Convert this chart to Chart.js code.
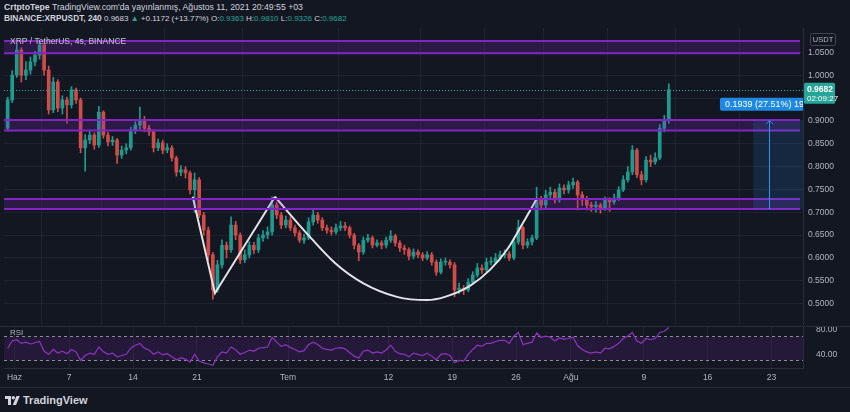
<!DOCTYPE html>
<html lang="tr"><head><meta charset="utf-8">
<script src="https://cdn.jsdelivr.net/npm/chart.js@4.4.1/dist/chart.umd.min.js"></script>
<style>
 html,body{margin:0;padding:0;background:#131722;}
 body{width:850px;height:412px;position:relative;overflow:hidden;font-family:'Liberation Sans',Arial,sans-serif;color:#d1d4dc}
 .hdr{position:absolute;left:4px;white-space:nowrap;line-height:10px}
 .up{color:#26a69a}
 #mainWrap{position:absolute;left:0;top:28px;width:850px;height:297px}
 #rsiWrap{position:absolute;left:0;top:326px;width:850px;height:62px}
 #logo{position:absolute;left:5px;top:394px;font-size:11px;font-weight:bold;color:#d1d4dc;white-space:nowrap;line-height:12px}
 #logo svg{vertical-align:-1px;margin-right:3px}
</style></head><body>
<div class="hdr" style="top:2px;font-size:8.7px"><b>CrtptoTepe</b> TradingView.com'da yayınlanmış, Ağustos 11, 2021 20:49:55 +03</div>
<div class="hdr" style="top:13px;font-size:8px"><b style="font-size:8.3px">BINANCE:XRPUSDT, 240</b> 0.9683 <span class="up">▲</span> +0.1172 (+13.77%) O:<span class="up">0.9363</span> H:<span class="up">0.9810</span> L:<span class="up">0.9326</span> C:<span class="up">0.9682</span></div>
<div id="mainWrap"><canvas id="main"></canvas></div>
<div id="rsiWrap"><canvas id="rsi"></canvas></div>
<div id="logo"><svg width="15" height="9" viewBox="0 0 15 9"><path d="M0 0h6v9h-3v-6h-3z" fill="#d1d4dc"/><circle cx="8.3" cy="1.7" r="1.7" fill="#d1d4dc"/><path d="M11.5 0h3.3l-3.8 9h-3.3z" fill="#d1d4dc"/></svg>TradingView</div>
<script>
// ---- data (12h candles, days counted from 1 June 2021) ----
const firstCandleDay = -1;      // 31 May 00:00
const candleSpanDays = 0.5;     // 12 hours
const opens = [0.884,0.946,1.000,1.055,1.000,1.011,1.029,1.044,1.066,1.011,
 0.924,0.985,0.928,0.946,0.935,0.968,0.946,0.841,0.858,0.869,
 0.847,0.919,0.869,0.854,0.858,0.825,0.836,0.841,0.880,0.891,
 0.902,0.884,0.876,0.841,0.852,0.836,0.841,0.819,0.788,0.793,
 0.786,0.749,0.771,0.694,0.661,0.607,0.530,0.585,0.628,0.618,
 0.672,0.650,0.596,0.607,0.628,0.618,0.644,0.650,0.657,0.716,
 0.694,0.672,0.683,0.666,0.655,0.639,0.644,0.679,0.694,0.683,
 0.666,0.661,0.657,0.666,0.670,0.666,0.650,0.628,0.613,0.639,
 0.644,0.628,0.633,0.628,0.639,0.648,0.633,0.622,0.618,0.604,
 0.613,0.607,0.600,0.607,0.591,0.569,0.591,0.591,0.585,0.530,
 0.534,0.530,0.547,0.563,0.578,0.574,0.591,0.591,0.600,0.607,
 0.609,0.600,0.635,0.666,0.628,0.635,0.644,0.727,0.716,0.738,
 0.744,0.727,0.753,0.749,0.760,0.766,0.738,0.727,0.716,0.712,
 0.716,0.709,0.727,0.723,0.731,0.749,0.771,0.788,0.836,0.782,
 0.771,0.814,0.810,0.819,0.884,0.902];
const highs = [0.952,1.010,1.068,1.060,1.030,1.040,1.052,1.075,1.070,1.020,
 0.995,0.990,0.955,0.952,0.975,0.972,0.950,0.870,0.878,0.874,
 0.932,0.922,0.875,0.866,0.862,0.845,0.850,0.886,0.898,0.930,
 0.910,0.890,0.880,0.860,0.858,0.850,0.846,0.823,0.802,0.800,
 0.790,0.786,0.776,0.700,0.668,0.612,0.595,0.640,0.635,0.690,
 0.680,0.655,0.618,0.636,0.634,0.652,0.660,0.668,0.734,0.722,
 0.700,0.692,0.690,0.672,0.660,0.652,0.688,0.708,0.700,0.688,
 0.672,0.668,0.674,0.680,0.678,0.670,0.654,0.632,0.646,0.652,
 0.648,0.640,0.638,0.646,0.660,0.652,0.638,0.628,0.622,0.620,
 0.618,0.612,0.614,0.612,0.596,0.598,0.600,0.596,0.590,0.545,
 0.540,0.555,0.570,0.588,0.585,0.600,0.602,0.610,0.615,0.618,
 0.614,0.642,0.683,0.670,0.642,0.650,0.755,0.735,0.748,0.755,
 0.750,0.762,0.760,0.768,0.775,0.770,0.745,0.735,0.722,0.724,
 0.720,0.734,0.732,0.740,0.756,0.780,0.800,0.846,0.840,0.790,
 0.822,0.825,0.830,0.892,0.912,0.981];
const lows = [0.878,0.940,0.995,0.985,0.990,1.002,1.020,1.035,1.000,0.915,
 0.918,0.920,0.915,0.895,0.928,0.938,0.830,0.790,0.850,0.838,
 0.842,0.862,0.845,0.846,0.807,0.818,0.828,0.836,0.872,0.882,
 0.876,0.868,0.832,0.835,0.828,0.830,0.812,0.779,0.780,0.775,
 0.740,0.700,0.688,0.650,0.595,0.510,0.525,0.578,0.600,0.612,
 0.640,0.588,0.590,0.600,0.610,0.612,0.636,0.642,0.650,0.686,
 0.664,0.666,0.660,0.648,0.634,0.632,0.640,0.672,0.676,0.660,
 0.654,0.650,0.652,0.660,0.660,0.644,0.620,0.594,0.608,0.634,
 0.622,0.624,0.620,0.622,0.634,0.626,0.614,0.608,0.596,0.598,
 0.600,0.594,0.596,0.584,0.562,0.565,0.584,0.578,0.515,0.522,
 0.520,0.526,0.542,0.558,0.566,0.570,0.585,0.588,0.596,0.600,
 0.594,0.596,0.630,0.620,0.622,0.628,0.640,0.705,0.710,0.730,
 0.720,0.722,0.740,0.742,0.752,0.705,0.715,0.705,0.702,0.700,
 0.698,0.704,0.702,0.718,0.726,0.745,0.766,0.782,0.776,0.760,
 0.766,0.800,0.805,0.815,0.876,0.895];
const closes = [0.946,1.000,1.055,1.000,1.011,1.029,1.044,1.066,1.011,0.924,
 0.985,0.928,0.946,0.935,0.968,0.946,0.841,0.858,0.869,0.847,
 0.919,0.869,0.854,0.858,0.825,0.836,0.841,0.880,0.891,0.902,
 0.884,0.876,0.841,0.852,0.836,0.841,0.819,0.788,0.793,0.786,
 0.749,0.771,0.694,0.661,0.607,0.530,0.585,0.628,0.618,0.672,
 0.650,0.596,0.607,0.628,0.618,0.644,0.650,0.657,0.716,0.694,
 0.672,0.683,0.666,0.655,0.639,0.644,0.679,0.694,0.683,0.666,
 0.661,0.657,0.666,0.670,0.666,0.650,0.628,0.613,0.639,0.644,
 0.628,0.633,0.628,0.639,0.648,0.633,0.622,0.618,0.604,0.613,
 0.607,0.600,0.607,0.591,0.569,0.591,0.591,0.585,0.530,0.534,
 0.530,0.547,0.563,0.578,0.574,0.591,0.591,0.600,0.607,0.609,
 0.600,0.635,0.666,0.628,0.635,0.644,0.727,0.716,0.738,0.744,
 0.727,0.753,0.749,0.760,0.766,0.738,0.727,0.716,0.712,0.716,
 0.709,0.727,0.723,0.731,0.749,0.771,0.788,0.836,0.782,0.771,
 0.814,0.810,0.819,0.884,0.902,0.968];
const rsiValues = [50,62,64,58,60,57,59,61,45,40,
 48,42,45,41,48,44,30,38,42,40,
 52,44,40,42,36,38,40,50,55,58,
 50,47,40,44,39,41,36,31,34,32,
 27,40,29,26,24,22,36,44,42,52,
 47,40,43,47,45,50,51,52,68,60,
 53,56,51,48,44,46,56,60,56,50,
 48,47,50,51,49,43,37,34,45,47,
 42,44,42,47,55,45,41,40,36,42,
 40,38,42,37,31,40,41,38,26,30,
 29,40,48,55,53,58,58,61,63,63,
 58,70,76,56,58,60,75,68,70,68,
 62,67,65,66,68,54,48,44,42,44,
 42,50,49,53,58,66,70,76,62,58,
 66,64,66,76,78,84];
const dateTickDays = [0,6,13,20,30,41,48,55,61,69,76,83];
const dateTickLabels = ['Haz','7','14','21','Tem','12','19','26','Ağu','9','16','23'];
const priceTicks = [0.50,0.55,0.60,0.65,0.70,0.75,0.80,0.85,0.90,0.95,1.00,1.05];
const rsiTicks = [40,80];
const rsiBand = [30,70];
const zoneLows  = [1.048,0.879,0.707];
const zoneHighs = [1.075,0.902,0.729];
const wDays   = [19.54,21.98,28.56];
const wPrices = [0.734,0.523,0.734];
const cupDays   = [28.56,32.04,35.14,38.21,41.94,45.23,47.20,49.94,52.13,54.00,55.76,57.30];
const cupPrices = [0.734,0.654,0.589,0.545,0.515,0.508,0.515,0.539,0.574,0.618,0.677,0.731];
const measureFrom = 0.7066, measureTo = 0.9005, measureStartDay = 81.0, measureArrowDay = 82.7;
const measureLabel = '0.1939 (27.51%) 1939';
const lastPrice = 0.9682, countdown = '02:09:27';
const pairLabel = 'XRP / TetherUS, 4s, BINANCE';

// ---- styling ----
const FONT = "'Liberation Sans', Arial, sans-serif";
const GRID = 'rgba(42,46,57,0.55)';
const AXIS = '#b2b5be';
const C_UP = '#1f9a8e', C_DN = '#cf4c49';
const ZONE_LINE = '#8424c4', ZONE_FILL = 'rgba(140,40,200,0.2)';
const xMin = -1.151, xMax = 86.46;

const t = closes.map((_, i) => firstCandleDay + (i + 0.5) * candleSpanDays);
const colors = closes.map((c, i) => c >= opens[i] ? C_UP : C_DN);

function fixY(w){ return s => { s.width = w; s.paddingTop = 0; s.paddingBottom = 0; }; }
function rr(ctx, x, y, w, h, r){ ctx.beginPath(); ctx.moveTo(x+r,y); ctx.lineTo(x+w-r,y); ctx.quadraticCurveTo(x+w,y,x+w,y+r); ctx.lineTo(x+w,y+h-r); ctx.quadraticCurveTo(x+w,y+h,x+w-r,y+h); ctx.lineTo(x+r,y+h); ctx.quadraticCurveTo(x,y+h,x,y+h-r); ctx.lineTo(x,y+r); ctx.quadraticCurveTo(x,y,x+r,y); ctx.closePath(); }

const mainOverlay = {
  id: 'mainOverlay',
  afterDatasetsDraw(chart){
    const {ctx, chartArea: a, scales: {x, y}} = chart;
    ctx.save();
    ctx.beginPath(); ctx.rect(a.left, a.top, a.right - a.left, a.bottom - a.top); ctx.clip();
    const zr = a.right - 3;
    zoneLows.forEach((lo, k) => {
      const yT = y.getPixelForValue(zoneHighs[k]), yB = y.getPixelForValue(lo);
      ctx.fillStyle = ZONE_FILL;
      ctx.fillRect(a.left, yT, zr - a.left, yB - yT);
      ctx.strokeStyle = ZONE_LINE; ctx.lineWidth = 2;
      ctx.beginPath(); ctx.moveTo(a.left, yT); ctx.lineTo(zr, yT); ctx.moveTo(a.left, yB); ctx.lineTo(zr, yB); ctx.stroke();
    });
    // price range measurement
    const mx0 = x.getPixelForValue(measureStartDay), ax = Math.round(x.getPixelForValue(measureArrowDay)) + 0.5;
    const myT = y.getPixelForValue(measureTo), myB = y.getPixelForValue(measureFrom);
    ctx.fillStyle = 'rgba(33,150,243,0.14)';
    ctx.fillRect(mx0, myT, a.right - mx0, myB - myT);
    ctx.strokeStyle = '#2196f3'; ctx.lineWidth = 1;
    ctx.beginPath(); ctx.moveTo(ax, myB); ctx.lineTo(ax, myT); ctx.stroke();
    ctx.beginPath(); ctx.moveTo(ax - 3.5, myT + 3.5); ctx.lineTo(ax, myT); ctx.lineTo(ax + 3.5, myT + 3.5); ctx.stroke();
    ctx.font = '9px ' + FONT;
    const tw = ctx.measureText(measureLabel).width;
    const lw = tw + 10, lh = 13, lx = ax - lw / 2, ly = myT - 10 - lh;
    ctx.fillStyle = '#1e88e5'; rr(ctx, lx, ly, lw, lh, 2); ctx.fill();
    ctx.fillStyle = '#ffffff'; ctx.textAlign = 'left'; ctx.textBaseline = 'middle';
    ctx.fillText(measureLabel, lx + 5, ly + lh / 2 + 0.5);
    // last price dotted line
    const yP = Math.round(y.getPixelForValue(lastPrice)) + 0.5;
    ctx.strokeStyle = '#26a69a'; ctx.setLineDash([1, 2]);
    ctx.beginPath(); ctx.moveTo(a.left, yP); ctx.lineTo(a.right, yP); ctx.stroke();
    ctx.setLineDash([]);
    ctx.restore();
  },
  afterDraw(chart){
    const {ctx, chartArea: a, scales: {y}} = chart;
    ctx.save();
    const yP = y.getPixelForValue(lastPrice);
    ctx.fillStyle = '#26a69a'; rr(ctx, a.right + 1, yP - 7, 31, 21, 1.5); ctx.fill();
    ctx.fillStyle = '#ffffff'; ctx.textAlign = 'left'; ctx.textBaseline = 'middle';
    ctx.font = 'bold 8.5px ' + FONT; ctx.fillText(lastPrice.toFixed(4), a.right + 4, yP);
    ctx.font = '8px ' + FONT; ctx.fillText(countdown, a.right + 4, yP + 9);
    // currency tag
    ctx.strokeStyle = '#434651'; ctx.lineWidth = 1; rr(ctx, a.right + 7.5, 5.5, 25, 12, 2); ctx.stroke();
    ctx.fillStyle = AXIS; ctx.font = '7.5px ' + FONT; ctx.textAlign = 'center';
    ctx.fillText('USDT', a.right + 20, 12);
    // pair label
    ctx.textAlign = 'left'; ctx.font = '8.5px ' + FONT; ctx.fillStyle = '#c3c6ce';
    ctx.fillText(pairLabel, 10, 13.5);
    ctx.restore();
  }
};

new Chart(document.getElementById('main'), {
  type: 'bar',
  data: { datasets: [
    { type: 'line', data: wDays.map((d, i) => ({x: d, y: wPrices[i]})), borderColor: '#e3e4e8', borderWidth: 2, pointRadius: 0, tension: 0, order: 0 },
    { type: 'line', data: cupDays.map((d, i) => ({x: d, y: cupPrices[i]})), borderColor: '#e3e4e8', borderWidth: 2, pointRadius: 0, cubicInterpolationMode: 'monotone', order: 0 },
    { type: 'bar', data: t.map((v, i) => ({x: v, y: [lows[i], highs[i]]})), backgroundColor: colors, grouped: false, barPercentage: 1, categoryPercentage: 1, maxBarThickness: 1, order: 2 },
    { type: 'bar', data: t.map((v, i) => ({x: v, y: [opens[i], closes[i]]})), backgroundColor: colors, grouped: false, barPercentage: 1, categoryPercentage: 1, maxBarThickness: 3, minBarLength: 1, order: 1 }
  ]},
  options: {
    responsive: true, maintainAspectRatio: false, animation: false, events: [], devicePixelRatio: 1,
    layout: { padding: { left: 4, right: 0, top: 0, bottom: 0 } },
    plugins: { legend: { display: false }, tooltip: { enabled: false } },
    scales: {
      x: { type: 'linear', min: xMin, max: xMax, offset: false,
           ticks: { display: false }, grid: { color: GRID, drawTicks: false }, border: { display: false },
           afterBuildTicks: s => { s.ticks = dateTickDays.map(v => ({value: v})); },
           afterFit: s => { s.height = 0; s.paddingLeft = 0; s.paddingRight = 0; } },
      y: { type: 'linear', position: 'right', min: 0.4534, max: 1.1032, beginAtZero: false,
           ticks: { color: AXIS, font: { size: 8.5, family: FONT }, padding: 5, callback: v => v.toFixed(4) },
           grid: { color: GRID, drawTicks: false }, border: { display: true, color: '#2a2e39' },
           afterBuildTicks: s => { s.ticks = priceTicks.map(v => ({value: v})); },
           afterFit: fixY(47) }
    }
  },
  plugins: [mainOverlay]
});

const rsiOverlay = {
  id: 'rsiOverlay',
  beforeDatasetsDraw(chart){
    const {ctx, chartArea: a, scales: {y}} = chart;
    const y70 = Math.round(y.getPixelForValue(rsiBand[1])) + 0.5, y30 = Math.round(y.getPixelForValue(rsiBand[0])) + 0.5;
    ctx.save();
    ctx.fillStyle = 'rgba(140,40,200,0.14)';
    ctx.fillRect(a.left, y70, a.right - a.left, y30 - y70);
    ctx.strokeStyle = '#8a8d96'; ctx.lineWidth = 1; ctx.setLineDash([3, 3]);
    ctx.beginPath(); ctx.moveTo(a.left, y70); ctx.lineTo(a.right, y70); ctx.moveTo(a.left, y30); ctx.lineTo(a.right, y30); ctx.stroke();
    ctx.restore();
  },
  afterDraw(chart){
    const {ctx} = chart;
    ctx.save();
    ctx.fillStyle = AXIS; ctx.font = '8px ' + FONT; ctx.textAlign = 'left'; ctx.textBaseline = 'middle';
    ctx.fillText('RSI', 10, 7);
    ctx.strokeStyle = '#2a2e39'; ctx.lineWidth = 1;
    ctx.beginPath(); ctx.moveTo(0, 0.5); ctx.lineTo(850, 0.5); ctx.moveTo(0, 61.5); ctx.lineTo(850, 61.5); ctx.stroke();
    ctx.restore();
  }
};

new Chart(document.getElementById('rsi'), {
  type: 'line',
  data: { datasets: [
    { data: t.map((v, i) => ({x: v, y: rsiValues[i]})), borderColor: '#8e35c0', borderWidth: 1.2, pointRadius: 0, tension: 0 }
  ]},
  options: {
    responsive: true, maintainAspectRatio: false, animation: false, events: [], devicePixelRatio: 1,
    layout: { padding: { left: 4, right: 0, top: 0, bottom: 0 } },
    plugins: { legend: { display: false }, tooltip: { enabled: false } },
    scales: {
      x: { type: 'linear', min: xMin, max: xMax, offset: false,
           grid: { color: GRID, drawTicks: false }, border: { display: true, color: '#2a2e39' },
           ticks: { color: AXIS, font: { size: 8.5, family: FONT }, padding: 5, autoSkip: false, maxRotation: 0, callback: (v, i) => dateTickLabels[i] },
           afterBuildTicks: s => { s.ticks = dateTickDays.map(v => ({value: v})); },
           afterFit: s => { s.height = 20; s.paddingLeft = 0; s.paddingRight = 0; } },
      y: { type: 'linear', position: 'right', min: 17.45, max: 86.58,
           ticks: { color: AXIS, font: { size: 8.5, family: FONT }, padding: 5, callback: v => v.toFixed(2) },
           grid: { display: false }, border: { display: true, color: '#2a2e39' },
           afterBuildTicks: s => { s.ticks = rsiTicks.map(v => ({value: v})); },
           afterFit: fixY(47) }
    }
  },
  plugins: [rsiOverlay]
});
</script>
</body></html>
